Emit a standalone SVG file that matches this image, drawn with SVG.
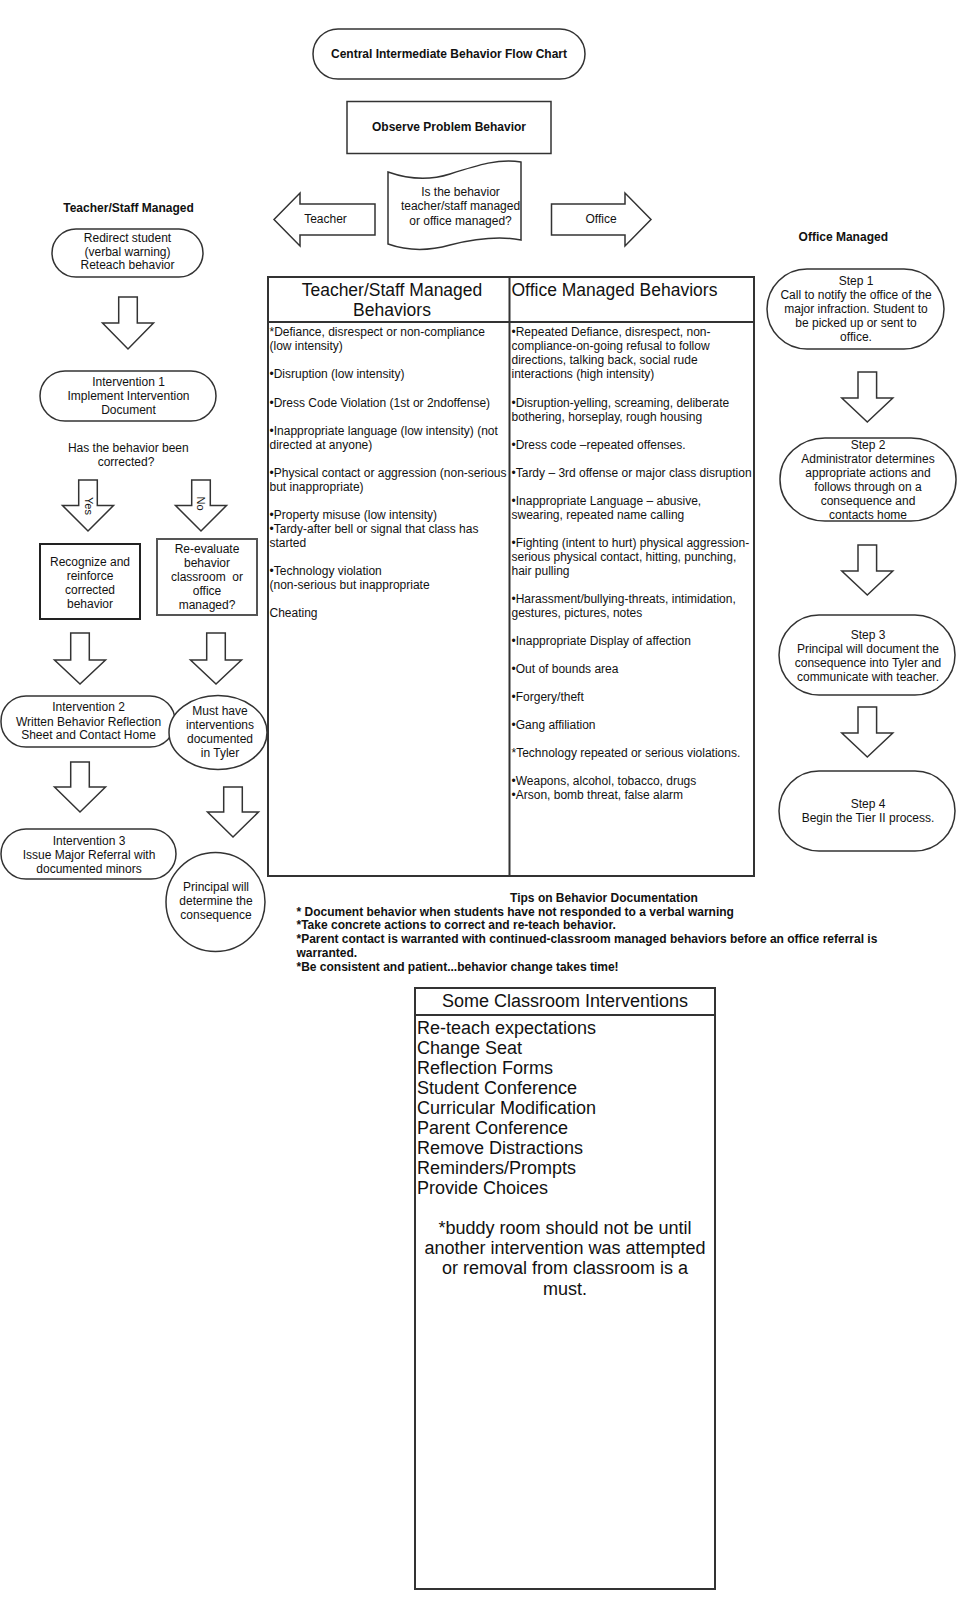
<svg xmlns="http://www.w3.org/2000/svg" width="979" height="1609" viewBox="0 0 979 1609">
<style>
text{font-family:"Liberation Sans",Arial,sans-serif;fill:#111}
.t{font-size:12px}
.c{text-anchor:middle}
.b{font-weight:bold}
.big{font-size:18px}
.hd{font-size:17.5px}
.sh{fill:#fff;stroke:#333;stroke-width:1.5}
.bx{fill:#fff;stroke:#222;stroke-width:2}
.ar{fill:#fff;stroke:#333;stroke-width:1.5;stroke-linejoin:miter}
.tl{fill:none;stroke:#333;stroke-width:2}
</style>
<defs>
<clipPath id="colL"><rect x="268" y="322" width="241.5" height="554"/></clipPath>
<clipPath id="colR"><rect x="509.5" y="322" width="244.5" height="554"/></clipPath>
</defs>
<rect width="979" height="1609" fill="#fff"/>

<g id="connectors">
<path class="ar" d="M375,204 H300 V193 L274,219.5 L300,246 V235 H375 Z"/>
<path class="ar" d="M551.5,204 H625 V193 L651,219.5 L625,246 V235 H551.5 Z"/>
<path class="ar" d="M118.7,297 H137.3 V323 H153.5 L128,349 L102.5,323 H118.7 Z"/>
<path class="ar" d="M78.7,480 H97.3 V505.5 H113.5 L88,531 L62.5,505.5 H78.7 Z"/>
<path class="ar" d="M191.7,480 H210.3 V505.5 H226.5 L201,531 L175.5,505.5 H191.7 Z"/>
<path class="ar" d="M70.7,633 H89.3 V660 H105.5 L80,684 L54.5,660 H70.7 Z"/>
<path class="ar" d="M206.7,633 H225.3 V660 H241.5 L216,684 L190.5,660 H206.7 Z"/>
<path class="ar" d="M70.7,762 H89.3 V787 H105.5 L80,812 L54.5,787 H70.7 Z"/>
<path class="ar" d="M223.7,787 H242.3 V812 H258.5 L233,837 L207.5,812 H223.7 Z"/>
<path class="ar" d="M858,372 H876.6 V398 H892.8 L867.3,422 L841.8,398 H858 Z"/>
<path class="ar" d="M858,545 H876.6 V571 H892.8 L867.3,595 L841.8,571 H858 Z"/>
<path class="ar" d="M858,707 H876.6 V733 H892.8 L867.3,757 L841.8,733 H858 Z"/>
<text class="t" style="font-size:11px" transform="translate(85,506) rotate(90)" text-anchor="middle">Yes</text>
<text class="t" style="font-size:11px" transform="translate(197,503.5) rotate(90)" text-anchor="middle">No</text>
<text class="t c" x="325.5" y="223">Teacher</text>
<text class="t c" x="601" y="223">Office</text>
</g>

<g id="title">
<rect class="sh" x="313" y="29" width="272" height="50" rx="25"/>
<text class="t c b" x="449" y="58">Central Intermediate Behavior Flow Chart</text>
</g>

<g id="observe">
<rect class="sh" x="347" y="101.5" width="204" height="52"/>
<text class="t c b" x="449" y="131">Observe Problem Behavior</text>
</g>

<g id="decision">
<path class="sh" d="M388,172 C405,178 425,182 450,174 C478,165 500,158 521,162 L521,240 C500,236 478,238 450,245 C425,252 405,250 388,244 Z"/>
<text class="t c" x="460.5" y="196">Is the behavior</text>
<text class="t c" x="460.5" y="210">teacher/staff managed</text>
<text class="t c" x="460.5" y="224.5">or office managed?</text>
</g>

<g id="teacher-label">
<text class="t c b" x="128.5" y="211.5">Teacher/Staff Managed</text>
</g>

<g id="redirect">
<rect class="sh" x="52" y="229" width="151" height="48" rx="24"/>
<text class="t c" x="127.5" y="241.5">Redirect student</text>
<text class="t c" x="127.5" y="255.5">(verbal warning)</text>
<text class="t c" x="127.5" y="269">Reteach behavior</text>
</g>

<g id="intervention1">
<rect class="sh" x="40" y="371" width="176" height="50" rx="25"/>
<text class="t c" x="128.5" y="386">Intervention 1</text>
<text class="t c" x="128.5" y="400">Implement Intervention</text>
<text class="t c" x="128.5" y="413.5">Document</text>
</g>

<g id="question">
<text class="t c" x="128.3" y="451.5">Has the behavior been</text>
<text class="t c" x="126" y="466">corrected?</text>
</g>

<g id="recognize">
<rect class="bx" x="40" y="544" width="100" height="75"/>
<text class="t c" x="90" y="565.5">Recognize and</text>
<text class="t c" x="90" y="580">reinforce</text>
<text class="t c" x="90" y="594">corrected</text>
<text class="t c" x="90" y="608">behavior</text>
</g>

<g id="reevaluate">
<rect class="bx" x="157" y="539" width="100" height="76" style="stroke:#555"/>
<text class="t c" x="207" y="552.5">Re-evaluate</text>
<text class="t c" x="207" y="566.5">behavior</text>
<text class="t c" x="207" y="581" style="white-space:pre">classroom  or</text>
<text class="t c" x="207" y="595">office</text>
<text class="t c" x="207" y="609">managed?</text>
</g>

<g id="intervention2">
<rect class="sh" x="1" y="696" width="174" height="51" rx="25"/>
<text class="t c" x="88.5" y="711.3">Intervention 2</text>
<text class="t c" x="88.5" y="725.5">Written Behavior Reflection</text>
<text class="t c" x="88.5" y="739.2">Sheet and Contact Home</text>
</g>

<g id="must-have">
<ellipse class="sh" cx="218" cy="732.5" rx="49" ry="37"/>
<text class="t c" x="220" y="715">Must have</text>
<text class="t c" x="220" y="729">interventions</text>
<text class="t c" x="220" y="743">documented</text>
<text class="t c" x="220" y="757">in Tyler</text>
</g>

<g id="intervention3">
<rect class="sh" x="1" y="829" width="175" height="50" rx="25"/>
<text class="t c" x="89" y="844.8">Intervention 3</text>
<text class="t c" x="89" y="858.8">Issue Major Referral with</text>
<text class="t c" x="89" y="872.8">documented minors</text>
</g>

<g id="principal">
<circle class="sh" cx="215.5" cy="902" r="49.5"/>
<text class="t c" x="216" y="890.7">Principal will</text>
<text class="t c" x="216" y="905">determine the</text>
<text class="t c" x="216" y="919">consequence</text>
</g>

<g id="behavior-table">
<rect class="tl" x="268" y="277" width="486" height="599"/>
<line class="tl" x1="268" y1="322" x2="754" y2="322"/>
<line class="tl" x1="509.5" y1="277" x2="509.5" y2="876"/>
<text class="hd c" x="392" y="296">Teacher/Staff Managed</text>
<text class="hd c" x="392" y="315.5">Behaviors</text>
<text class="hd" x="511.5" y="296">Office Managed Behaviors</text>
<g class="t" clip-path="url(#colL)">
<text x="269.5" y="336.3">*Defiance, disrespect or non-compliance</text>
<text x="269.5" y="350.3">(low intensity)</text>
<text x="269.5" y="378.4">•Disruption (low intensity)</text>
<text x="269.5" y="406.5">•Dress Code Violation (1st or 2ndoffense)</text>
<text x="269.5" y="434.5">•Inappropriate language (low intensity) (not</text>
<text x="269.5" y="448.5">directed at anyone)</text>
<text x="269.5" y="476.6">•Physical contact or aggression (non-serious</text>
<text x="269.5" y="490.6">but inappropriate)</text>
<text x="269.5" y="518.7">•Property misuse (low intensity)</text>
<text x="269.5" y="532.7">•Tardy-after bell or signal that class has</text>
<text x="269.5" y="546.7">started</text>
<text x="269.5" y="574.8">•Technology violation</text>
<text x="269.5" y="588.8">(non-serious but inappropriate</text>
<text x="269.5" y="616.9">Cheating</text>
</g>
<g class="t" clip-path="url(#colR)">
<text x="511.5" y="336.3">•Repeated Defiance, disrespect, non-</text>
<text x="511.5" y="350.3">compliance-on-going refusal to follow</text>
<text x="511.5" y="364.4">directions, talking back, social rude</text>
<text x="511.5" y="378.4">interactions (high intensity)</text>
<text x="511.5" y="406.5">•Disruption-yelling, screaming, deliberate</text>
<text x="511.5" y="420.5">bothering, horseplay, rough housing</text>
<text x="511.5" y="448.5">•Dress code –repeated offenses.</text>
<text x="511.5" y="476.6">•Tardy – 3rd offense or major class disruption</text>
<text x="511.5" y="504.7">•Inappropriate Language – abusive,</text>
<text x="511.5" y="518.7">swearing, repeated name calling</text>
<text x="511.5" y="546.7">•Fighting (intent to hurt) physical aggression-</text>
<text x="511.5" y="560.8">serious physical contact, hitting, punching,</text>
<text x="511.5" y="574.8">hair pulling</text>
<text x="511.5" y="602.9">•Harassment/bullying-threats, intimidation,</text>
<text x="511.5" y="616.9">gestures, pictures, notes</text>
<text x="511.5" y="645">•Inappropriate Display of affection</text>
<text x="511.5" y="673">•Out of bounds area</text>
<text x="511.5" y="701.1">•Forgery/theft</text>
<text x="511.5" y="729.1">•Gang affiliation</text>
<text x="511.5" y="757.2">*Technology repeated or serious violations.</text>
<text x="511.5" y="785.3">•Weapons, alcohol, tobacco, drugs</text>
<text x="511.5" y="799.3">•Arson, bomb threat, false alarm</text>
</g>
</g>

<g id="office-label">
<text class="t c b" x="843.3" y="240.5">Office Managed</text>
</g>

<g id="step1">
<rect class="sh" x="767" y="269" width="177" height="80" rx="40"/>
<text class="t c" x="856" y="284.8">Step 1</text>
<text class="t c" x="856" y="298.7">Call to notify the office of the</text>
<text class="t c" x="856" y="312.7">major infraction. Student to</text>
<text class="t c" x="856" y="326.9">be picked up or sent to</text>
<text class="t c" x="856" y="340.9">office.</text>
</g>

<g id="step2">
<rect class="sh" x="780" y="438" width="176" height="83" rx="45" ry="41"/>
<text class="t c" x="868" y="448.5">Step 2</text>
<text class="t c" x="868" y="462.7">Administrator determines</text>
<text class="t c" x="868" y="476.8">appropriate actions and</text>
<text class="t c" x="868" y="491">follows through on a</text>
<text class="t c" x="868" y="505.2">consequence and</text>
<text class="t c" x="868" y="519.3">contacts home</text>
</g>

<g id="step3">
<rect class="sh" x="779" y="615" width="176" height="80" rx="40"/>
<text class="t c" x="868" y="638.5">Step 3</text>
<text class="t c" x="868" y="652.8">Principal will document the</text>
<text class="t c" x="868" y="666.5">consequence into Tyler and</text>
<text class="t c" x="868" y="680.6">communicate with teacher.</text>
</g>

<g id="step4">
<rect class="sh" x="779" y="771" width="176" height="80" rx="40"/>
<text class="t c" x="868" y="808">Step 4</text>
<text class="t c" x="868" y="822">Begin the Tier II process.</text>
</g>

<g id="tips">
<text class="t c b" x="604" y="901.5">Tips on Behavior Documentation</text>
<text class="t b" x="296.5" y="915.5" style="white-space:pre">* Document behavior when students have not responded to a verbal warning</text>
<text class="t b" x="296.5" y="929.3">*Take concrete actions to correct and re-teach behavior.</text>
<text class="t b" x="296.5" y="943.2">*Parent contact is warranted with continued-classroom managed behaviors before an office referral is</text>
<text class="t b" x="296.5" y="957">warranted.</text>
<text class="t b" x="296.5" y="970.9">*Be consistent and patient...behavior change takes time!</text>
</g>

<g id="interventions">
<rect class="tl" x="415" y="988" width="300" height="601"/>
<line class="tl" x1="415" y1="1015" x2="715" y2="1015"/>
<text class="big c" x="565" y="1007">Some Classroom Interventions</text>
<text class="big" x="417" y="1034">Re-teach expectations</text>
<text class="big" x="417" y="1054">Change Seat</text>
<text class="big" x="417" y="1074.1">Reflection Forms</text>
<text class="big" x="417" y="1094.1">Student Conference</text>
<text class="big" x="417" y="1114.2">Curricular Modification</text>
<text class="big" x="417" y="1134.2">Parent Conference</text>
<text class="big" x="417" y="1154.3">Remove Distractions</text>
<text class="big" x="417" y="1174.3">Reminders/Prompts</text>
<text class="big" x="417" y="1194.4">Provide Choices</text>
<text class="big c" x="565" y="1234">*buddy room should not be until</text>
<text class="big c" x="565" y="1254.2">another intervention was attempted</text>
<text class="big c" x="565" y="1274.4">or removal from classroom is a</text>
<text class="big c" x="565" y="1294.6">must.</text>
</g>
</svg>
